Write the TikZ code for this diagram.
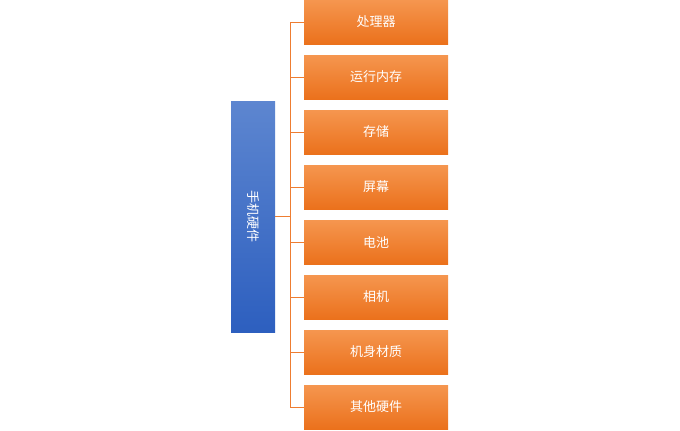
\documentclass[tikz,border=0pt]{standalone}
\usepackage{fontspec}
\newfontfamily\cjk{Noto Sans CJK SC}
\usetikzlibrary{positioning}
\definecolor{orTop}{HTML}{F5964F}
\definecolor{orBot}{HTML}{EB711C}
\definecolor{blTop}{HTML}{5D86D0}
\definecolor{blBot}{HTML}{2D5FBF}
\definecolor{lineOr}{HTML}{EE7D31}
\tikzset{
  leaf/.style={minimum width=144pt,minimum height=44pt,inner sep=0pt,top color=orTop,bottom color=orBot,text=white,font=\cjk\fontsize{13}{13}\selectfont},
  root/.style={minimum width=44pt,minimum height=231pt,inner sep=0pt,top color=blTop,bottom color=blBot,text=white,font=\cjk\fontsize{13}{13}\selectfont},
  link/.style={draw=lineOr,line width=0.8pt}
}
\begin{document}
\begin{tikzpicture}[x=1pt,y=-1pt]
  \useasboundingbox (0,0) rectangle (680,431);

  \node[root] (hw) at (253,216.5) {\rotatebox{-90}{手机硬件}};
  \coordinate (bus) at (290,216.5);
  \draw[link] (hw.east) -- (bus);

  \foreach \txt [count=\i from 0] in {处理器,运行内存,存储,屏幕,电池,相机,机身材质,其他硬件} {
    \node[leaf] (n\i) at (376,22+55*\i) {\txt};
    \draw[link] (290,22+55*\i) -- (n\i.west);
  }
  \draw[link] (290,22) -- (290,407);
\end{tikzpicture}
\end{document}
